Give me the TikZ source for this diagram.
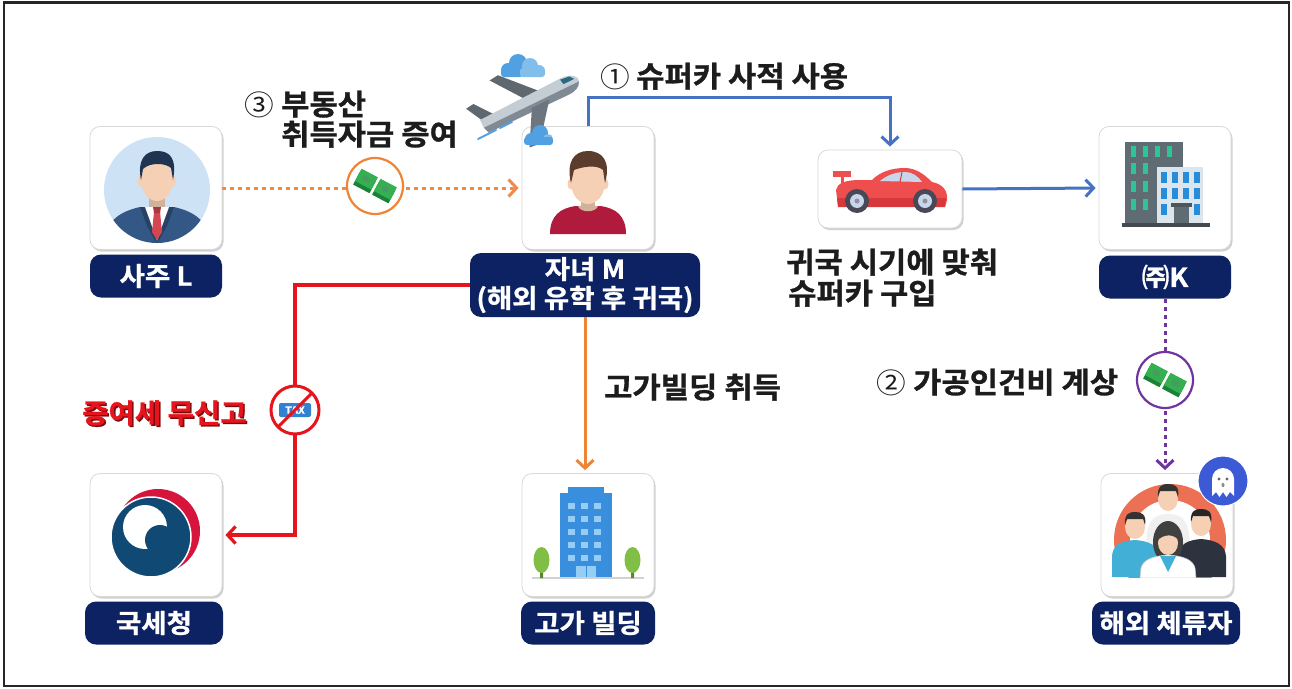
\documentclass[tikz,border=0pt]{standalone}
\usepackage{fontspec}
\setmainfont{Noto Sans CJK KR}[BoldFont={* Bold}, FakeStretch=1.06, BoldFeatures={FakeBold=1}]
\usetikzlibrary{arrows.meta,shadows,calc}

\definecolor{navy}{RGB}{12,34,98}
\definecolor{ink}{RGB}{28,28,28}
\definecolor{flowblue}{RGB}{70,114,196}
\definecolor{floworange}{RGB}{239,132,52}
\definecolor{dotorange}{RGB}{240,138,72}
\definecolor{flowred}{RGB}{230,20,28}
\definecolor{flowpurple}{RGB}{112,52,160}
\definecolor{skin}{RGB}{246,208,180}
\definecolor{bgblue}{RGB}{206,226,246}
\definecolor{suitblue}{RGB}{52,88,134}
\definecolor{hairnavy}{RGB}{30,52,80}
\definecolor{tiered}{RGB}{214,70,80}
\definecolor{hairbrown}{RGB}{92,60,44}
\definecolor{shirtred}{RGB}{176,26,60}
\definecolor{planegrey}{RGB}{128,138,148}
\definecolor{planelight}{RGB}{196,204,212}
\definecolor{cloudblue}{RGB}{80,160,226}
\definecolor{cloudlight}{RGB}{130,190,236}
\definecolor{carred}{RGB}{238,78,78}
\definecolor{cardark}{RGB}{214,56,60}
\definecolor{glass}{RGB}{200,214,236}
\definecolor{tyre}{RGB}{72,72,86}
\definecolor{slate}{RGB}{96,108,116}
\definecolor{mint}{RGB}{46,196,150}
\definecolor{paleblock}{RGB}{220,228,236}
\definecolor{winblue}{RGB}{40,140,216}
\definecolor{ntsblue}{RGB}{16,74,116}
\definecolor{ntsred}{RGB}{214,20,60}
\definecolor{towerblue}{RGB}{58,142,222}
\definecolor{towerwin}{RGB}{150,205,245}
\definecolor{leaf}{RGB}{128,190,70}
\definecolor{ringorange}{RGB}{236,112,84}
\definecolor{teal}{RGB}{66,176,214}
\definecolor{darksuit}{RGB}{44,50,62}
\definecolor{ghostblue}{RGB}{60,90,214}
\definecolor{billgreen}{RGB}{52,176,80}
\definecolor{billdark}{RGB}{26,130,56}
\definecolor{taxblue}{RGB}{50,130,210}
\definecolor{shadowred}{RGB}{120,10,14}

\tikzset{
  iconbox/.style={draw=black!15, line width=0.8pt, fill=white, rounded corners=10pt,
    minimum width=132pt, minimum height=123pt, inner sep=0pt,
    drop shadow={shadow xshift=1.5pt, shadow yshift=-2pt, opacity=0.3, fill=black!60}},
  tagbox/.style={fill=navy, rounded corners=11pt, text=white, inner sep=0pt,
    font=\bfseries\fontsize{26}{29}\selectfont, minimum height=43pt, align=center},
  caption/.style={font=\bfseries\fontsize{29}{32}\selectfont, text=ink, anchor=base west, inner sep=0pt},
  num/.style={font=\fontsize{28}{30}\selectfont, text=ink, anchor=base west, inner sep=0pt},
  coinring/.style={circle, minimum size=56pt, inner sep=0pt, fill=white, draw=#1, line width=2.2pt},
  barb/.style={-{Straight Barb[length=8pt,width=17pt]}},
  blueflow/.style={draw=flowblue, line width=3pt, barb, shorten >=3pt},
  orangeflow/.style={draw=floworange, line width=3pt, barb, shorten >=3pt},
  redflow/.style={draw=flowred, line width=3.2pt, barb, shorten >=3pt},
  dotflow/.style={draw=#1, line width=3pt, dash pattern=on 4pt off 4pt, barb, shorten >=3pt},
  money/.pic={
    \begin{scope}[rotate=-28]
      \fill[billdark] (-20,-5) rectangle (-1.5,9);
      \fill[billgreen] (-20,-9) rectangle (-1.5,5);
      \fill[billdark!80] (-11,-2) ellipse (4 and 3);
      \fill[billdark] (1.5,-5) rectangle (20,9);
      \fill[billgreen] (1.5,-9) rectangle (20,5);
      \fill[billdark!80] (11,-2) ellipse (4 and 3);
    \end{scope}
  }
}

\begin{document}
\begin{tikzpicture}[x=1pt,y=-1pt]
\useasboundingbox (0,0) rectangle (1292,688);
\fill[white] (0,0) rectangle (1292,688);
\draw[line width=2.6pt, black!85] (4,2.5) rectangle (1289,686);

% ---------- icon boxes ----------
\node[iconbox] (boxL) at (156,188) {};
\node[iconbox] (boxM) at (588,188) {};
\node[iconbox, minimum width=144pt, minimum height=78pt] (car) at (890,189) {};
\node[iconbox] (boxK) at (1165,188) {};
\node[iconbox] (boxN) at (156,535) {};
\node[iconbox] (boxB) at (588,535) {};
\node[iconbox] (boxP) at (1167,535) {};

% ---------- name tags ----------
\node[tagbox, minimum width=132pt] (labL) at (156,276) {사주 L};
\node[tagbox, minimum width=230pt, minimum height=64pt] (labM) at (585,285) {자녀 M\\(해외 유학 후 귀국)};
\node[tagbox, minimum width=132pt] (labK) at (1165,277) {㈜K};
\node[tagbox, minimum width=138pt] (labN) at (154,623) {국세청};
\node[tagbox, minimum width=134pt] (labB) at (588,623) {고가 빌딩};
\node[tagbox, minimum width=148pt] (labP) at (1166,623) {해외 체류자};

% ---------- connectors ----------
\draw[dotflow=dotorange] (boxL) -- (boxM);
\draw[blueflow] (boxM.north) -- ++(0,-29) -| (car.north);
\draw[blueflow] (car.east) -- (boxK.west);
\draw[orangeflow] (labM.south) -- (labM.south |- boxB.north);
\draw[dotflow=flowpurple] (labK.south) -- (labK.south |- boxP.north);
\node[circle, minimum size=50pt, inner sep=0pt] (tax) at (295,410) {};
\draw[redflow] (labM.west) -| (tax.center) |- (boxN.east);

% money on the gift and on the payroll
\node[coinring=floworange] (moneyA) at (375,186) {};
\pic at (moneyA) {money};
\node[coinring=flowpurple] (moneyB) at (1165,380) {};
\pic at (moneyB) {money};

% no-tax sign
\fill[white] (tax) circle (24);
\draw[flowred, line width=3pt] (tax) circle (24);
\node[fill=taxblue, rounded corners=2pt, text=white, font=\bfseries\fontsize{10}{10}\selectfont,
  minimum width=32pt, minimum height=14pt, inner sep=0pt] (taxtag) at (tax) {TAX};
\draw[flowred, line width=3pt] ($(tax)+(17,-17)$) -- ($(tax)+(-17,17)$);

% ---------- captions ----------
\node[num] (n1) at (600,87) {①};
\node[caption] (c1) at (636,87) {슈퍼카 사적 사용};
\node[num] (n3) at (244,115) {③};
\node[caption] (c3a) at (281,115) {부동산};
\node[caption] (c3b) at (281,145) {취득자금 증여};
\node[caption] (cbuy1) at (786,273) {귀국 시기에 맞춰};
\node[caption] (cbuy2) at (788,304) {슈퍼카 구입};
\node[caption] (cbld) at (604,398) {고가빌딩 취득};
\node[num] (n2) at (876,393) {②};
\node[caption] (c2) at (913,393) {가공인건비 계상};
\node[caption, text=shadowred, font=\bfseries\fontsize{27}{30}\selectfont] (notaxs) at (83.5,424.5) {증여세 무신고};
\node[caption, text=flowred, font=\bfseries\fontsize{27}{30}\selectfont] (notax) at (82,423) {증여세 무신고};

% ---------- owner ----------
\begin{scope}
  \fill[bgblue] (157,190) circle (53);
  \clip (157,190) circle (53);
  \fill[skin!85!black] (149,193) rectangle (165,212);
  \fill[suitblue] (102,250) .. controls (104,222) and (118,212) .. (140,207) -- (174,207)
    .. controls (196,212) and (210,222) .. (212,250) -- cycle;
  \fill[suitblue!75!black] (140,207) -- (146,207) -- (157,244) -- (147,226) -- cycle;
  \fill[suitblue!75!black] (174,207) -- (168,207) -- (157,244) -- (167,226) -- cycle;
  \fill[white] (145,207) -- (157,240) -- (169,207) -- cycle;
  \fill[tiered] (154,212) -- (160,212) -- (162,232) -- (157,240) -- (152,232) -- cycle;
  \fill[tiered!80!black] (153,207) -- (161,207) -- (160,213) -- (154,213) -- cycle;
  \fill[skin] (141,181) ellipse (3.5 and 5.5);
  \fill[skin] (173,181) ellipse (3.5 and 5.5);
  \fill[skin] (157,180) ellipse (16 and 21);
  \fill[hairnavy] (141,180) .. controls (137,160) and (145,151) .. (157,151)
    .. controls (170,151) and (177,158) .. (173,180) -- (171,168)
    .. controls (166,163) and (150,162) .. (143,169) -- cycle;
\end{scope}

% ---------- child ----------
\begin{scope}
  \fill[skin!85!black] (581,196) rectangle (595,210);
  \fill[shirtred] (550,234) .. controls (550,216) and (560,208) .. (576,206) -- (600,206)
    .. controls (616,208) and (626,216) .. (626,234) -- cycle;
  \fill[skin!85!black] (578,206) .. controls (580,213) and (596,213) .. (598,206) -- cycle;
  \fill[skin] (571,184) ellipse (3.5 and 5.5);
  \fill[skin] (605,184) ellipse (3.5 and 5.5);
  \fill[skin] (588,182) ellipse (17 and 22);
  \fill[hairbrown] (571,183) .. controls (566,162) and (574,151) .. (588,151)
    .. controls (603,151) and (611,162) .. (605,183) -- (603,170)
    .. controls (596,164) and (582,167) .. (574,170) -- cycle;
\end{scope}

% ---------- plane and clouds ----------
\fill[cloudblue] (508,70) circle (7) (518,63) circle (9);
\fill[cloudlight] (530,66) circle (8) (539,71) circle (6);
\fill[cloudblue, rounded corners=3pt] (501,68) rectangle (523,77);
\fill[cloudlight, rounded corners=3pt] (520,68) rectangle (545,77);
\begin{scope}[shift={(528,105)}, rotate=26, scale=1.08]
  \fill[planegrey!75!black] (0,-6) -- (-22,-36) -- (-13,-37) -- (16,-6) -- cycle;
  \fill[planegrey!75!black] (-44,-5) -- (-53,-22) -- (-45,-23) -- (-32,-6) -- cycle;
  \fill[planelight] (-46,-7) -- (38,-9) .. controls (49,-9) and (54,-3) .. (52,1) -- (-46,1) -- cycle;
  \fill[planegrey] (-46,1) -- (52,1) .. controls (50,6) and (45,8) .. (38,8) -- (-44,7) -- cycle;
  \fill[teal!60!black] (37,-8) -- (46,-7) -- (49,-3) -- (38,-3) -- cycle;
  \fill[planegrey!85!black] (2,4) -- (-16,36) -- (-6,37) -- (20,4) -- cycle;
\end{scope}
\draw[cloudblue, line width=2pt, line cap=round] (478,139) -- (496,130) (500,128) -- (512,122);
\fill[cloudblue] (531,139) circle (6) (540,133) circle (8);
\fill[cloudlight] (548,139) circle (5);
\fill[cloudblue, rounded corners=3pt] (524,137) rectangle (553,145);

% ---------- sports car ----------
\begin{scope}
  \fill[carred] (841,176) rectangle (844,186);
  \fill[carred] (833,171) rectangle (851,177);
  \fill[carred] (838,206) -- (836,190) .. controls (837,183) and (846,180) .. (860,180) -- (872,180)
    .. controls (880,172) and (891,168) .. (905,168) .. controls (916,168) and (925,175) .. (932,182)
    .. controls (942,184) and (948,190) .. (947,200) -- (945,207) -- cycle;
  \fill[cardark] (837,198) -- (946,198) -- (945,207) -- (838,207) -- cycle;
  \fill[glass] (880,181) .. controls (887,175) and (896,172) .. (905,172)
    .. controls (912,172) and (918,176) .. (922,182) -- cycle;
  \draw[cardark, line width=1pt] (902,172) -- (900,182);
  \fill[tyre] (857,201) circle (12) (925,201) circle (12);
  \fill[glass] (857,201) circle (7) (925,201) circle (7);
  \fill[tyre!60] (857,201) circle (2.5) (925,201) circle (2.5);
\end{scope}

% ---------- company building ----------
\begin{scope}
  \fill[slate] (1125,142) rectangle (1183,227);
  \foreach \x in {1131,1143,1155,1167} \fill[mint] (\x,146) rectangle ++(5,11);
  \foreach \y in {163,181,199} \foreach \x in {1131,1143} \fill[mint] (\x,\y) rectangle ++(5,11);
  \fill[paleblock] (1157,167) rectangle (1203,227);
  \foreach \y in {172,188} \foreach \x in {1161,1172,1183,1194} \fill[winblue] (\x,\y) rectangle ++(6,11);
  \fill[winblue] (1161,204) rectangle ++(6,11);
  \fill[winblue] (1194,204) rectangle ++(6,11);
  \fill[slate!80!black] (1171,203) rectangle (1192,207);
  \fill[slate] (1174,207) rectangle (1189,227);
  \fill[slate!70!black] (1122,223) rectangle (1210,227);
\end{scope}

% ---------- tax office emblem ----------
\begin{scope}
  \fill[ntsred] (158,531) circle (42);
  \fill[ntsblue, draw=white, line width=1.5pt] (151,537) circle (40);
  \fill[white] (145,527) circle (22);
  \fill[ntsblue] (160,540) circle (15);
\end{scope}

% ---------- office tower ----------
\begin{scope}
  \fill[towerblue] (560,493) rectangle (612,578);
  \fill[towerblue] (568,487) rectangle (604,494);
  \foreach \x in {568,581,594} \foreach \y in {503,516,529,542,555}
    \fill[towerwin] (\x,\y) rectangle ++(7,6);
  \fill[towerwin] (576,566) rectangle (596,578);
  \draw[towerblue, line width=0.8pt] (586,566) -- (586,578);
  \draw[gray!35, line width=1.2pt] (532,578) -- (644,578);
  \fill[leaf!70!black] (540,560) rectangle (543,578) (631,560) rectangle (634,578);
  \fill[leaf] (541.5,560) ellipse (8 and 13) (632.5,560) ellipse (8 and 13);
\end{scope}

% ---------- people abroad ----------
\begin{scope}
  \clip (1101,474) rectangle (1233,577);
  \fill[ringorange] (1170,540) circle (56);
  \fill[white] (1170,540) circle (40);
  % back
  \fill[gray!12] (1146,550) .. controls (1146,522) and (1152,514) .. (1168,514)
    .. controls (1184,514) and (1190,522) .. (1190,550) -- cycle;
  \fill[skin] (1168,499) ellipse (10 and 12);
  \fill[black!80] (1158,497) .. controls (1157,485) and (1163,484) .. (1168,484)
    .. controls (1174,484) and (1180,486) .. (1178,497) -- (1176,491) -- (1160,491) -- cycle;
  % left
  \fill[teal] (1112,577) -- (1112,556) .. controls (1113,545) and (1120,541) .. (1135,540)
    .. controls (1150,541) and (1158,546) .. (1160,556) -- (1160,577) -- cycle;
  \fill[skin] (1135,527) ellipse (10 and 12);
  \fill[black!80] (1125,525) .. controls (1124,513) and (1130,512) .. (1135,512)
    .. controls (1141,512) and (1147,514) .. (1145,525) -- (1143,519) -- (1127,519) -- cycle;
  % right
  \fill[darksuit] (1178,577) -- (1178,554) .. controls (1180,544) and (1188,540) .. (1201,539)
    .. controls (1216,540) and (1225,545) .. (1226,556) -- (1226,577) -- cycle;
  \fill[skin] (1201,524) ellipse (10 and 12);
  \fill[black!85] (1191,522) .. controls (1190,510) and (1196,509) .. (1201,509)
    .. controls (1207,509) and (1213,511) .. (1211,522) -- (1209,516) -- (1193,516) -- cycle;
  % front
  \fill[black!75] (1168,542) ellipse (15 and 21);
  \fill[white, draw=gray!40, line width=0.6pt] (1140,578) -- (1141,568) .. controls (1143,560) and (1152,556) .. (1168,555)
    .. controls (1184,556) and (1193,560) .. (1195,568) -- (1196,578) -- cycle;
  \fill[teal] (1160,556) -- (1168,572) -- (1176,556) -- cycle;
  \fill[skin] (1168,543) ellipse (10 and 12);
  \fill[black!75] (1157,541) .. controls (1157,530) and (1162,528) .. (1168,528)
    .. controls (1175,528) and (1180,531) .. (1179,541) .. controls (1175,534) and (1164,533) .. cycle;
\end{scope}

% ghost badge
\fill[ghostblue, draw=white, line width=1pt] (1223,481) circle (25);
\fill[white] (1212,496) -- (1212,479) arc[start angle=180, end angle=360, radius=11]
  -- (1234,496) -- (1230,492) -- (1226.5,497) -- (1223,492) -- (1219.5,497) -- (1216,492) -- cycle;
\fill[black!60] (1219,479) circle (1.6) (1227,479) circle (1.6);
\fill[black!45] (1223,485) ellipse (1.5 and 2.2);

\end{tikzpicture}
\end{document}
